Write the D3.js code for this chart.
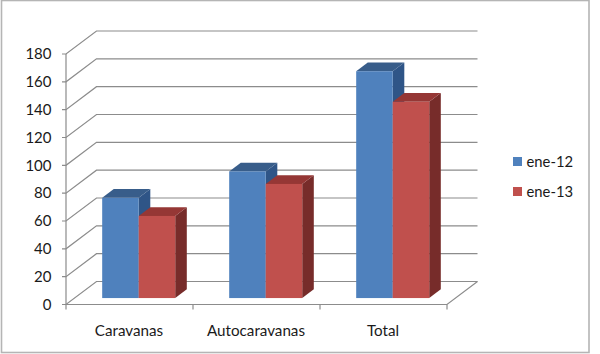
<!DOCTYPE html>
<html><head><meta charset="utf-8">
<script src="https://cdnjs.cloudflare.com/ajax/libs/d3/7.8.5/d3.min.js"></script>
<style>html,body{margin:0;padding:0;background:#fff}svg{display:block}text{font-family:Lato,"Open Sans",sans-serif;fill:#1a1a1a}</style>
</head><body><svg id="c" width="600" height="354"></svg>
<script>
const categories = ["Caravanas","Autocaravanas","Total"];
const seriesNames = ["ene-12","ene-13"];
const ene12 = [72,91,163];
const ene13 = [59,82,141];
const yTicks = [0,20,40,60,80,100,120,140,160,180];
const frontColors = ["#4F81BD","#C0504D"];
const topColors = ["#385D8A","#953735"];
const sideColors = ["#2F5587","#772C2A"];
const gridColor = "#8C8C8C";

const svg = d3.select("#c");
svg.append("rect").attr("x",1.5).attr("y",0.5).attr("width",587.5).attr("height",352)
  .attr("fill","#fff").attr("stroke","#B5B5B5").attr("stroke-width",1.6);

const plotL=66, plotR=447, plotB=304.5, plotT=54, dx=30.5, dy=-23;
const y = d3.scaleLinear().domain([0,180]).range([plotB,plotT]);
const x = d3.scaleBand().domain(categories).range([plotL,plotR]).paddingInner(0.425).paddingOuter(0.2125);
const xs = d3.scaleBand().domain(seriesNames).range([0,x.bandwidth()]);

const g = svg.append("g").attr("fill","none").attr("stroke",gridColor).attr("stroke-width",1.2);
yTicks.forEach(t=>{
  const p=y(t);
  const path=d3.path();
  path.moveTo(plotL-4,p); path.lineTo(plotL,p); path.lineTo(plotL+dx,p+dy); path.lineTo(plotR+dx,p+dy);
  g.append("path").attr("d",path.toString());
});
const ax=d3.path();
ax.moveTo(plotL,plotT); ax.lineTo(plotL,plotB); ax.lineTo(plotR,plotB); ax.lineTo(plotR+dx,plotB+dy);
g.append("path").attr("d",ax.toString());
const tickXs = categories.map(c=>x(c)-x.step()*x.paddingInner()/2-x.step()*0).concat([plotR]);
g.selectAll("line.t").data(tickXs).join("line").attr("x1",d=>d).attr("x2",d=>d).attr("y1",plotB).attr("y2",plotB+5);

svg.selectAll("text.y").data(yTicks).join("text").attr("class","y")
  .attr("x",51.5).attr("y",d=>y(d)).attr("dy","0.35em").attr("text-anchor","end")
  .attr("font-size",15).text(d=>d);
svg.selectAll("text.x").data(categories).join("text").attr("class","x")
  .attr("x",d=>x(d)+x.bandwidth()/2-0.5).attr("y",336).attr("text-anchor","middle")
  .attr("font-size",15.2).text(d=>d);

const fFront=0.28, fBack=0.66;
const bx=9.2, bars=svg.append("g");
[ene12,ene13].forEach((vals,s)=>{
  vals.forEach((v,i)=>{
    const x0=x(categories[i])+xs(seriesNames[s])+bx, w=xs.bandwidth();
    const oy=fFront*dy, b=y(0)+oy, t=y(v)+oy;
    const ddx=(fBack-fFront)*dx, ddy=(fBack-fFront)*dy;
    bars.append("polygon").attr("fill",sideColors[s])
      .attr("points",[[x0+w,b],[x0+w,t],[x0+w+ddx,t+ddy],[x0+w+ddx,b+ddy]].join(" "));
    bars.append("polygon").attr("fill",topColors[s])
      .attr("points",[[x0,t],[x0+w,t],[x0+w+ddx,t+ddy],[x0+ddx,t+ddy]].join(" "));
    bars.append("rect").attr("fill",frontColors[s]).attr("x",x0).attr("y",t).attr("width",w).attr("height",b-t);
  });
});

const legendY = d3.scalePoint().domain(seriesNames).range([161.5,191.5]);
seriesNames.forEach((n,i)=>{
  svg.append("rect").attr("x",513).attr("y",legendY(n)-4.5).attr("width",9).attr("height",9).attr("fill",frontColors[i]);
  svg.append("text").attr("x",526.5).attr("y",legendY(n)).attr("dy","0.35em").attr("font-size",14.8).text(n);
});
</script></body></html>
